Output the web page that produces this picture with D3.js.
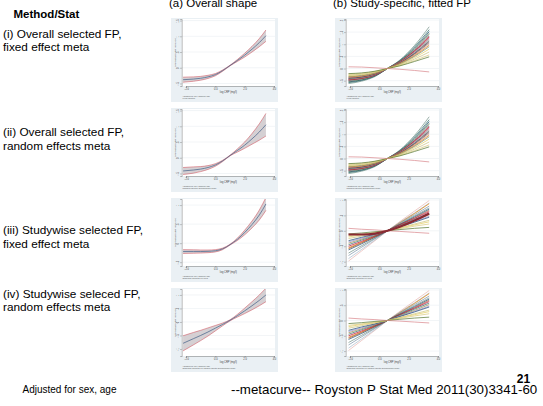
<!DOCTYPE html>
<html>
<head>
<meta charset="utf-8">
<script src="https://cdn.jsdelivr.net/npm/d3@7"></script>
<style>
  body { margin: 0; background: #fff; }
  svg { display: block; }
  text { font-family: "Liberation Sans", Arial, Helvetica, sans-serif; }
</style>
</head>
<body>
<svg id="chart" width="543" height="406"></svg>
<script>
// ---- pooled curves: log CRP grid and log hazard ratio with 95% CI ----
const logCRP = [-2.2, -1.5, -1, -0.5, 0, 0.5, 1, 1.5, 2, 2.5, 3, 3.45];

const fixedFit = [-0.38, -0.36, -0.335, -0.29, -0.22, -0.09, 0.07, 0.23, 0.40, 0.59, 0.80, 1.02];
const fixedLo  = [-0.46, -0.43, -0.395, -0.34, -0.255, -0.11, 0.06, 0.20, 0.34, 0.50, 0.67, 0.84];
const fixedHi  = [-0.30, -0.29, -0.275, -0.24, -0.185, -0.07, 0.08, 0.26, 0.46, 0.68, 0.93, 1.20];

const randomFit = [-0.42, -0.39, -0.36, -0.31, -0.23, -0.10, 0.07, 0.23, 0.40, 0.60, 0.82, 1.05];
const randomLo  = [-0.53, -0.49, -0.44, -0.37, -0.27, -0.12, 0.06, 0.18, 0.30, 0.43, 0.56, 0.69];
const randomHi  = [-0.31, -0.29, -0.28, -0.25, -0.19, -0.08, 0.08, 0.28, 0.50, 0.77, 1.08, 1.41];

const swFixedFit = [-0.22, -0.22, -0.22, -0.215, -0.20, -0.15, -0.04, 0.10, 0.28, 0.49, 0.74, 1.03];
const swFixedLo  = [-0.27, -0.265, -0.26, -0.25, -0.23, -0.17, -0.05, 0.07, 0.22, 0.40, 0.61, 0.86];
const swFixedHi  = [-0.17, -0.175, -0.18, -0.18, -0.17, -0.13, -0.03, 0.13, 0.34, 0.58, 0.87, 1.20];

const swRandomFit = [-0.79, -0.62, -0.50, -0.37, -0.23, -0.09, 0.06, 0.23, 0.41, 0.60, 0.80, 1.00];
const swRandomLo  = [-1.07, -0.85, -0.69, -0.52, -0.33, -0.14, 0.04, 0.18, 0.31, 0.45, 0.60, 0.75];
const swRandomHi  = [-0.51, -0.39, -0.31, -0.22, -0.13, -0.04, 0.08, 0.28, 0.51, 0.75, 1.00, 1.25];

// ---- study-specific fitted curves ----
const studyCRP = [-2.1, -1.2, -0.3, 0.55, 1.4, 2.4, 3.4];

// overall selected FP powers, refitted in each study
const overallFPStudies = [
  [-0.62, -0.52, -0.33, 0, 0.35, 0.95, 1.72],
  [-0.58, -0.49, -0.31, 0, 0.33, 0.89, 1.60],
  [-0.55, -0.47, -0.30, 0, 0.31, 0.84, 1.52],
  [-0.52, -0.45, -0.29, 0, 0.30, 0.80, 1.45],
  [-0.50, -0.43, -0.28, 0, 0.29, 0.77, 1.40],
  [-0.48, -0.41, -0.27, 0, 0.28, 0.74, 1.34],
  [-0.46, -0.40, -0.26, 0, 0.27, 0.72, 1.30],
  [-0.45, -0.39, -0.25, 0, 0.26, 0.69, 1.25],
  [-0.43, -0.37, -0.24, 0, 0.25, 0.67, 1.21],
  [-0.41, -0.36, -0.23, 0, 0.24, 0.64, 1.16],
  [-0.40, -0.35, -0.22, 0, 0.23, 0.62, 1.12],
  [-0.38, -0.33, -0.21, 0, 0.22, 0.59, 1.07],
  [-0.36, -0.31, -0.20, 0, 0.21, 0.56, 1.02],
  [-0.34, -0.30, -0.19, 0, 0.20, 0.53, 0.96],
  [-0.32, -0.28, -0.18, 0, 0.18, 0.50, 0.90],
  [-0.29, -0.25, -0.16, 0, 0.16, 0.45, 0.80],
  [-0.26, -0.23, -0.14, 0, 0.14, 0.39, 0.68],
  [-0.23, -0.20, -0.12, 0, 0.12, 0.33, 0.56],
  [-0.21, -0.18, -0.11, 0, 0.11, 0.29, 0.48],
  [0.07, 0.06, 0.03, 0, -0.03, -0.08, -0.14]
];
const overallFPColours = [
  "#6e8e84", "#2d6d66", "#1a476f", "#55752f", "#7b92a8", "#90353b", "#c10534",
  "#a0522d", "#938dd2", "#9c8847", "#1a476f", "#90353b", "#bfa19c", "#e37e00",
  "#6e8e84", "#e2cc5c", "#cac27e", "#d8c878", "#55752f", "#d9848a"
];

// FP powers selected separately in each study
const studywiseFPStudies = [
  [-0.98, -0.65, -0.32, 0, 0.30, 0.64, 0.98],
  [-0.90, -0.60, -0.30, 0, 0.28, 0.58, 0.90],
  [-0.55, -0.37, -0.18, 0, 0.26, 0.56, 0.88],
  [-0.80, -0.53, -0.26, 0, 0.25, 0.52, 0.80],
  [-0.72, -0.48, -0.24, 0, 0.23, 0.48, 0.74],
  [-0.62, -0.42, -0.21, 0, 0.21, 0.45, 0.70],
  [-0.58, -0.39, -0.19, 0, 0.20, 0.42, 0.66],
  [-0.50, -0.34, -0.17, 0, 0.19, 0.40, 0.62],
  [-0.45, -0.30, -0.15, 0, 0.17, 0.37, 0.57],
  [-0.40, -0.27, -0.13, 0, 0.15, 0.33, 0.52],
  [-0.36, -0.24, -0.12, 0, 0.14, 0.30, 0.47],
  [-0.32, -0.21, -0.11, 0, 0.13, 0.28, 0.44],
  [-0.25, -0.17, -0.08, 0, 0.10, 0.22, 0.34],
  [-0.20, -0.13, -0.07, 0, 0.09, 0.19, 0.29],
  [-0.16, -0.11, -0.05, 0, 0.07, 0.15, 0.22],
  [-0.10, -0.07, -0.03, 0, 0.04, 0.08, 0.11],
  [0.08, 0.05, 0.03, 0, -0.02, -0.05, -0.08]
];
const studywiseFPColours = [
  "#e8b4b0", "#a8bccc", "#e37e00", "#7b92a8", "#6e8e84", "#1a476f", "#a0522d",
  "#c10534", "#2d6d66", "#9c8847", "#938dd2", "#1a476f", "#cac27e", "#e2cc5c",
  "#d8c878", "#55752f", "#d9848a"
];
// pooled studywise curve drawn over the study curves
const studywisePooled = [-0.12, -0.12, -0.09, 0, 0.13, 0.33, 0.56];

// ---- axes ----
const xTicks = [-2, 0, 2, 4];
const yTicksShape = [-0.5, 0, 0.5, 1, 1.5];
const yTicksShapeSW = [-0.5, 0, 0.5, 1];
const yTicksShapeSWR = [-1, -0.5, 0, 0.5, 1];
const yTicksStudy = [-0.5, 0, 0.5, 1, 1.5, 2];
const yTicksStudySW = [-1, -0.5, 0, 0.5, 1];

// ---- text ----
const rowLabels = [
  ["(i) Overall selected FP,", "fixed effect meta"],
  ["(ii) Overall selected FP,", "random effects meta"],
  ["(iii) Studywise selected FP,", "fixed effect meta"],
  ["(iv) Studywise seleced FP,", "random effects meta"]
];
const panelNotes = [
  ["Adjusted for: sex, baseline age", "Fixed effect(s)"],
  ["Adjusted for: sex, baseline age", "Random effect(s) (DerSimonian-Laird)"],
  ["Adjusted for: sex, baseline age", "Studywise selected FP, fixed"],
  ["Adjusted for: sex, baseline age", "Studywise selected FP, random effects (DerSimonian-Laird)"]
];

const svg = d3.select("#chart");

// headings
svg.append("text").attr("x", 13.5).attr("y", 17.5).attr("font-size", 11.5)
  .attr("font-weight", "bold").text("Method/Stat");
svg.append("text").attr("x", 169).attr("y", 7).attr("font-size", 11.5).text("(a) Overall shape");
svg.append("text").attr("x", 333).attr("y", 7).attr("font-size", 11.5).text("(b) Study-specific, fitted FP");

const rowTops = [18, 108, 198, 288];
const rowLabelY = [37.5, 136, 234, 297.5];
rowLabels.forEach((lines, i) => {
  lines.forEach((t, j) => {
    svg.append("text").attr("x", 3).attr("y", rowLabelY[i] + j * 13.5)
      .attr("font-size", 11.8).text(t);
  });
});

// footer
svg.append("text").attr("x", 22.5).attr("y", 392.8).attr("font-size", 10).text("Adjusted for sex, age");
svg.append("text").attr("x", 231).attr("y", 393.8).attr("font-size", 13.3)
  .text("--metacurve-- Royston P Stat Med 2011(30)3341-60");
svg.append("text").attr("x", 523.5).attr("y", 383).attr("font-size", 12)
  .attr("font-weight", "bold").attr("text-anchor", "middle").text("21");

// ---- one small Stata-style graph ----
const PW = 107, PH = 84;
const AX = 10.7, PR = 104, PT = 1, AY = 68;
let clipId = 0;

function panel(left, top, yDomain, yTicks, notes, drawMarks) {
  const g = svg.append("g").attr("transform", `translate(${left},${top})`);
  const x = d3.scaleLinear().domain([-2, 4]).range([15, 103]);
  const y = d3.scaleLinear().domain(yDomain).range([AY, PT]);

  g.append("rect").attr("width", PW).attr("height", PH).attr("fill", "#eaf0f4");
  g.append("rect").attr("x", AX).attr("y", PT).attr("width", PR - AX).attr("height", AY - PT)
    .attr("fill", "#fff");

  // horizontal grid
  g.selectAll(".grid").data(yTicks).enter().append("line")
    .attr("x1", AX).attr("x2", PR).attr("y1", d => y(d)).attr("y2", d => y(d))
    .attr("stroke", "#e4ebee").attr("stroke-width", 0.5);

  const id = "clip" + (clipId++);
  g.append("clipPath").attr("id", id).append("rect")
    .attr("x", AX).attr("y", PT).attr("width", PR - AX).attr("height", AY - PT);
  const marks = g.append("g").attr("clip-path", `url(#${id})`);
  drawMarks(marks, x, y);

  // y axis
  const ya = g.append("g").attr("transform", `translate(${AX},0)`)
    .call(d3.axisLeft(y).tickValues(yTicks).tickSize(1.5).tickPadding(0.8)
      .tickFormat(d => d3.format("")(d).replace("0.", ".")));
  ya.select(".domain").attr("stroke", "#555").attr("stroke-width", 0.4);
  ya.selectAll(".tick line").attr("stroke", "#555").attr("stroke-width", 0.4);
  ya.selectAll(".tick text").attr("font-size", 2.6).attr("fill", "#444")
    .attr("font-family", null).attr("text-anchor", "middle")
    .attr("x", 0).attr("y", 0).attr("dy", null)
    .attr("transform", "translate(-3,0) rotate(-90)");

  // x axis
  const xa = g.append("g").attr("transform", `translate(0,${AY})`)
    .call(d3.axisBottom(x).tickValues(xTicks).tickSize(1.5).tickPadding(0.8));
  xa.select(".domain").attr("stroke", "#555").attr("stroke-width", 0.4);
  xa.selectAll(".tick line").attr("stroke", "#555").attr("stroke-width", 0.4);
  xa.selectAll(".tick text").attr("font-size", 2.6).attr("fill", "#444").attr("font-family", null);

  g.append("text").attr("transform", `translate(5,${(AY + PT) / 2}) rotate(-90)`)
    .attr("text-anchor", "middle").attr("font-size", 2.5).attr("fill", "#444")
    .text("Log hazard ratio (95% CI)");
  g.append("text").attr("x", (AX + PR) / 2).attr("y", 75).attr("text-anchor", "middle")
    .attr("font-size", 2.6).attr("fill", "#444").text("log CRP (mg/l)");
  notes.forEach((t, j) => {
    g.append("text").attr("x", 11.5).attr("y", 78.5 + j * 2.6)
      .attr("font-size", 2).attr("fill", "#555").text(t);
  });
}

function bandMarks(fit, lo, hi) {
  return (m, x, y) => {
    const pts = logCRP.map((v, i) => ({ x: v, f: fit[i], l: lo[i], h: hi[i] }));
    m.append("path").datum(pts)
      .attr("d", d3.area().x(d => x(d.x)).y0(d => y(d.l)).y1(d => y(d.h)).curve(d3.curveMonotoneX))
      .attr("fill", "#cbc4c8").attr("fill-opacity", 0.8);
    ["l", "h"].forEach(k => {
      m.append("path").datum(pts)
        .attr("d", d3.line().x(d => x(d.x)).y(d => y(d[k])).curve(d3.curveMonotoneX))
        .attr("fill", "none").attr("stroke", "#d0505c").attr("stroke-width", 0.55);
    });
    m.append("path").datum(pts)
      .attr("d", d3.line().x(d => x(d.x)).y(d => y(d.f)).curve(d3.curveMonotoneX))
      .attr("fill", "none").attr("stroke", "#3f5f86").attr("stroke-width", 0.7);
  };
}

function studyMarks(curves, colours, pooled) {
  return (m, x, y) => {
    const line = d3.line().x((d, i) => x(studyCRP[i])).y(d => y(d)).curve(d3.curveMonotoneX);
    curves.forEach((c, i) => {
      m.append("path").attr("d", line(c)).attr("fill", "none")
        .attr("stroke", colours[i % colours.length]).attr("stroke-width", 0.7);
    });
    if (pooled) {
      m.append("path").attr("d", line(pooled)).attr("fill", "none")
        .attr("stroke", "#8a2a33").attr("stroke-width", 2.2);
    }
  };
}

const LEFT_A = 171, LEFT_B = 335;

panel(LEFT_A, rowTops[0], [-0.58, 1.55], yTicksShape, panelNotes[0], bandMarks(fixedFit, fixedLo, fixedHi));
panel(LEFT_A, rowTops[1], [-0.58, 1.55], yTicksShape, panelNotes[1], bandMarks(randomFit, randomLo, randomHi));
panel(LEFT_A, rowTops[2], [-0.6, 1.16], yTicksShapeSW, panelNotes[2], bandMarks(swFixedFit, swFixedLo, swFixedHi));
panel(LEFT_A, rowTops[3], [-1.26, 1.22], yTicksShapeSWR, panelNotes[3], bandMarks(swRandomFit, swRandomLo, swRandomHi));

panel(LEFT_B, rowTops[0], [-0.72, 2.04], yTicksStudy, panelNotes[0], studyMarks(overallFPStudies, overallFPColours));
panel(LEFT_B, rowTops[1], [-0.72, 2.04], yTicksStudy, panelNotes[1], studyMarks(overallFPStudies, overallFPColours));
panel(LEFT_B, rowTops[2], [-1.14, 1.03], yTicksStudySW, panelNotes[2], studyMarks(studywiseFPStudies, studywiseFPColours, studywisePooled));
panel(LEFT_B, rowTops[3], [-1.16, 1.03], yTicksStudySW, panelNotes[3], studyMarks(studywiseFPStudies, studywiseFPColours));
</script>
</body>
</html>
